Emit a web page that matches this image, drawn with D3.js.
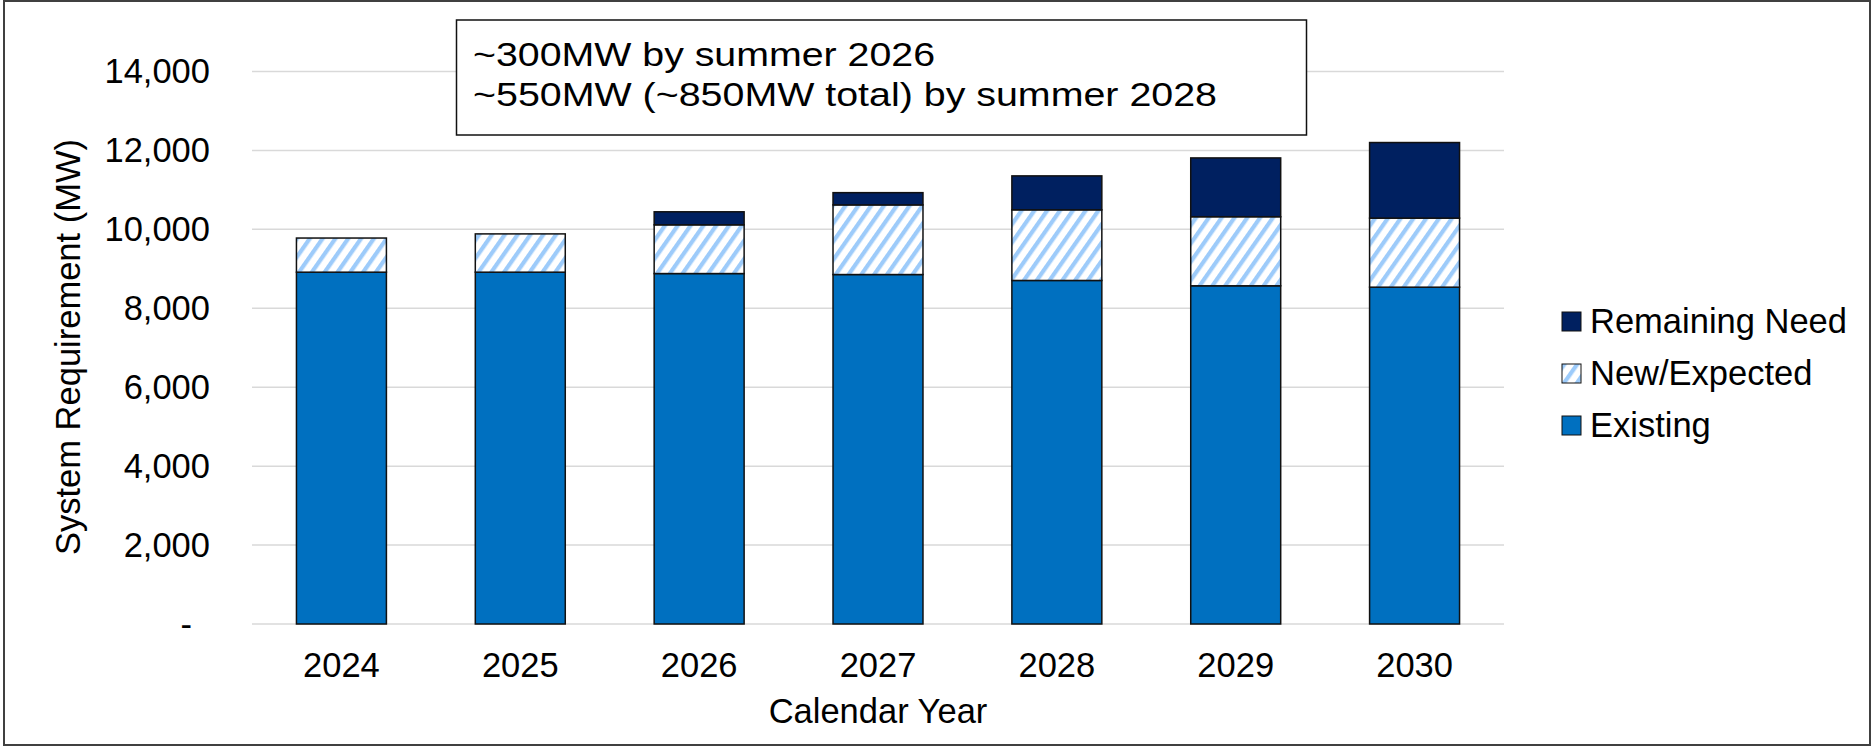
<!DOCTYPE html>
<html>
<head>
<meta charset="utf-8">
<script src="https://cdn.jsdelivr.net/npm/d3@7"></script>
<style>
  body { margin: 0; background: #fff; }
  text { font-family: "Liberation Sans", Arial, sans-serif; fill: #000; }
</style>
</head>
<body>
<div id="chart"></div>
<script>
var years = ["2024", "2025", "2026", "2027", "2028", "2029", "2030"];
var existing = [8915, 8915, 8880, 8855, 8705, 8570, 8535];
var newExpected = [865, 970, 1235, 1765, 1790, 1750, 1750];
var remaining = [0, 0, 330, 310, 860, 1490, 1915];
var yTicks = [0, 2000, 4000, 6000, 8000, 10000, 12000, 14000];
var seriesNames = ["Existing", "New/Expected", "Remaining Need"];
var notes = ["~300MW by summer 2026", "~550MW (~850MW total) by summer 2028"];

var width = 1871, height = 746;

var svg = d3.select("#chart").append("svg")
  .attr("width", width)
  .attr("height", height);

// hatch pattern for New/Expected
var defs = svg.append("defs");
var pat = defs.append("pattern")
  .attr("id", "hatch")
  .attr("patternUnits", "userSpaceOnUse")
  .attr("width", 10.5)
  .attr("height", 10.5)
  .attr("patternTransform", "rotate(35)");
pat.append("rect").attr("width", 10.5).attr("height", 10.5).attr("fill", "#fff");
pat.append("rect").attr("width", 4.2).attr("height", 10.5).attr("fill", "#9dcbfa");

var colors = { "Existing": "#0070c0", "New/Expected": "url(#hatch)", "Remaining Need": "#002060" };

// outer frame
svg.append("rect")
  .attr("x", 4).attr("y", 1)
  .attr("width", 1866).attr("height", 744)
  .attr("fill", "none")
  .attr("stroke", "#404040")
  .attr("stroke-width", 2);

var x = d3.scaleBand()
  .domain(years)
  .range([252, 1504])
  .paddingInner(0.497)
  .paddingOuter(0.2485);

var y = d3.scaleLinear()
  .domain([0, 14000])
  .range([624, 71.5]);

// gridlines
svg.append("g")
  .selectAll("line")
  .data(yTicks)
  .enter().append("line")
  .attr("x1", 252).attr("x2", 1504)
  .attr("y1", d => y(d)).attr("y2", d => y(d))
  .attr("stroke", "#d9d9d9")
  .attr("stroke-width", 1.5);

// y axis labels
var yAxis = svg.append("g")
  .attr("transform", "translate(210,0)")
  .call(d3.axisLeft(y).tickValues(yTicks).tickSize(0).tickPadding(0)
    .tickFormat(d => d === 0 ? "-" : d3.format(",")(d)));
yAxis.select(".domain").remove();
yAxis.selectAll("text")
  .style("font-size", "34.5px")
  .attr("font-family", null)
  .attr("dx", d => d === 0 ? -18 : 0);

// x axis labels
var xAxis = svg.append("g")
  .attr("transform", "translate(0,624)")
  .call(d3.axisBottom(x).tickSize(0).tickPadding(0));
xAxis.select(".domain").remove();
xAxis.selectAll("text")
  .style("font-size", "34.5px")
  .attr("font-family", null)
  .attr("y", 53)
  .attr("dy", 0);

// stacked data
var table = years.map(function(yr, i) {
  return { year: yr, "Existing": existing[i], "New/Expected": newExpected[i], "Remaining Need": remaining[i] };
});
var stack = d3.stack().keys(seriesNames)(table);

svg.append("g")
  .selectAll("g")
  .data(stack)
  .enter().append("g")
  .attr("fill", d => colors[d.key])
  .selectAll("rect")
  .data(d => d.filter(s => s[1] - s[0] > 0))
  .enter().append("rect")
  .attr("x", d => x(d.data.year))
  .attr("width", x.bandwidth())
  .attr("y", d => y(d[1]))
  .attr("height", d => y(d[0]) - y(d[1]))
  .attr("stroke", "#111")
  .attr("stroke-width", 1.5);

// axis titles
svg.append("text")
  .attr("transform", "translate(80,347) rotate(-90)")
  .attr("text-anchor", "middle")
  .style("font-size", "34.5px")
  .text("System Requirement (MW)");

svg.append("text")
  .attr("x", 878).attr("y", 723)
  .attr("text-anchor", "middle")
  .style("font-size", "34.5px")
  .text("Calendar Year");

// legend
var legendItems = ["Remaining Need", "New/Expected", "Existing"];
var lg = svg.append("g")
  .selectAll("g")
  .data(legendItems)
  .enter().append("g")
  .attr("transform", (d, i) => "translate(1562," + (312 + i * 52) + ")");
lg.append("rect")
  .attr("width", 19).attr("height", 19)
  .attr("fill", d => colors[d])
  .attr("stroke", "#111")
  .attr("stroke-width", 1);
lg.append("text")
  .attr("x", 28).attr("y", 21)
  .style("font-size", "34.5px")
  .text(d => d);

// annotation box
svg.append("rect")
  .attr("x", 456.5).attr("y", 20)
  .attr("width", 850).attr("height", 115)
  .attr("fill", "#fff")
  .attr("stroke", "#111")
  .attr("stroke-width", 1.5);
var noteWidths = [462, 744];
svg.append("g")
  .selectAll("text")
  .data(notes)
  .enter().append("text")
  .attr("x", 473)
  .attr("y", (d, i) => 65.5 + i * 40)
  .attr("textLength", (d, i) => noteWidths[i])
  .attr("lengthAdjust", "spacingAndGlyphs")
  .style("font-size", "34px")
  .text(d => d);
</script>
</body>
</html>
